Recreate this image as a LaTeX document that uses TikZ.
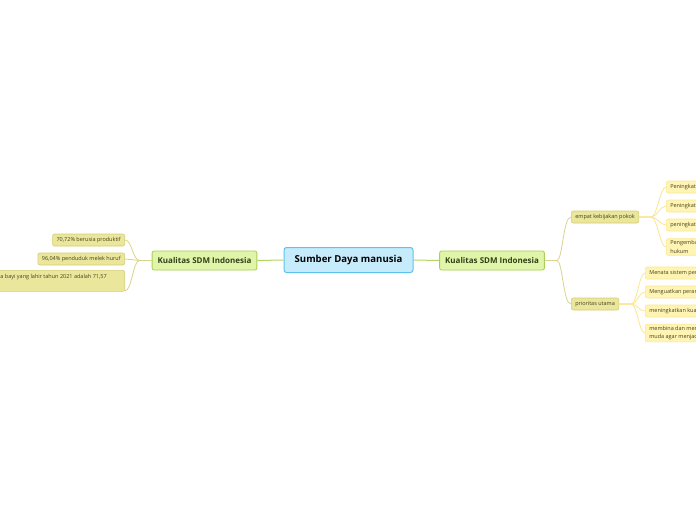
\documentclass[tikz,border=0pt]{standalone}
\usepackage{fontspec}
\setmainfont{Open Sans}
\usetikzlibrary{positioning}

\definecolor{rootfill}{HTML}{C6ECFC}
\definecolor{rootline}{HTML}{5CC3EE}
\definecolor{mainfill}{HTML}{E0F5A8}
\definecolor{mainline}{HTML}{A9CF56}
\definecolor{maintext}{HTML}{33401A}
\definecolor{subfill}{HTML}{EAE69C}
\definecolor{subline}{HTML}{D5CF72}
\definecolor{subtext}{HTML}{45421F}
\definecolor{leaffill}{HTML}{FFF4B4}
\definecolor{leafline}{HTML}{FCE890}
\definecolor{rootlinkc}{HTML}{B2D466}
\definecolor{sublinkc}{HTML}{D9D48C}
\definecolor{leaflinkc}{HTML}{FBE68E}

\begin{document}
\begin{tikzpicture}[
    x=1pt, y=-1pt,
    every node/.style={inner sep=2pt},
    rootbox/.style={draw=rootline, fill=rootfill, line width=1pt,
        rounded corners=2.5pt, minimum width=129, minimum height=25,
        font=\fontsize{9.6}{11}\selectfont\bfseries},
    mainbox/.style={draw=mainline, fill=mainfill, line width=0.8pt,
        rounded corners=2pt, inner xsep=5.5pt, minimum height=19,
        text=maintext, font=\fontsize{8}{9}\selectfont\bfseries},
    subbox/.style={draw=subline, fill=subfill, line width=0.6pt,
        rounded corners=2pt, inner xsep=4pt, minimum height=12,
        text=subtext, font=\fontsize{5.5}{8.3}\selectfont},
    leafbox/.style={subbox, draw=leafline, fill=leaffill, align=left},
    rootlink/.style={draw=rootlinkc, line width=1pt},
    sublink/.style={draw=sublinkc, line width=0.8pt},
    leaflink/.style={draw=leaflinkc, line width=0.8pt}
]

% Fondo
\useasboundingbox (0,0) rectangle (696,520);
\clip (0,0) rectangle (696,520);
\fill[white] (0,0) rectangle (696,520);

% Nodo central y primer nivel
\node[rootbox] (root) at (348.5,260) {Sumber Daya manusia};
\node[mainbox] (kualL) at (204.5,260.5) {Kualitas SDM Indonesia};
\node[mainbox] (kualR) at (492,260.5) {Kualitas SDM Indonesia};

% Hojas izquierda
\node[subbox, anchor=east] (usia) at (125,240) {70,72\% berusia produktif};
\node[subbox, anchor=east] (melek) at (125,259) {96,04\% penduduk melek huruf};
\node[subbox, anchor=north east, align=left, minimum height=21] (harapan) at (125,270)
    {Usia harapan hidup rata-rata bayi yang lahir tahun 2021 adalah 71,57\hbox to 14pt{}\\tahun};

% Segundo nivel derecha
\node[subbox, anchor=west] (kebijakan) at (571,217) {empat kebijakan pokok};
\node[subbox, anchor=west] (prioritas) at (571,304) {prioritas utama};

% Tercer nivel derecha
\node[leafbox, anchor=west] (hidup) at (666,187) {Peningkatan kualitas hidup};
\node[leafbox, anchor=west] (sdm) at (666,206) {Peningkatan kualitas sumber daya manusia};
\node[leafbox, anchor=west] (iptek) at (666,225) {peningkatan kemampuan IPTEK};
\node[leafbox, anchor=west] (pranata) at (666,247)
    {Pengembangan pranata pendukung yang meliputi pranata\\hukum};
\node[leafbox, anchor=west] (sistem) at (645,273) {Menata sistem pendidikan nasional};
\node[leafbox, anchor=west] (peran) at (645,292) {Menguatkan peran keluarga};
\node[leafbox, anchor=west] (kerja) at (645,311) {meningkatkan kualitas tenaga kerja};
\node[leafbox, anchor=west] (pemuda) at (645,333)
    {membina dan mengembangkan generasi\\muda agar menjadi kader bangsa};

% Ramas centrales
\draw[rootlink] (root.west) -- (kualL.east);
\draw[rootlink] (root.east) -- (kualR.west);

% Ramas izquierda
\draw[sublink] (kualL.west) -- ++(-12,0) .. controls +(-7,0) and +(7,0) .. (usia.east);
\draw[sublink] (kualL.west) -- ++(-12,0) .. controls +(-7,0) and +(7,0) .. (melek.east);
\draw[sublink] (kualL.west) -- ++(-12,0) .. controls +(-7,0) and +(7,0) .. ([yshift=-10]harapan.east);

% Ramas derecha
\draw[sublink] (kualR.east) -- ++(12,0) .. controls +(6,0) and +(-8,0) .. (kebijakan.west);
\draw[sublink] (kualR.east) -- ++(12,0) .. controls +(6,0) and +(-8,0) .. (prioritas.west);

\draw[leaflink] (kebijakan.east) -- ++(12,0) .. controls +(6,0) and +(-6,0) .. (hidup.west);
\draw[leaflink] (kebijakan.east) -- ++(12,0) .. controls +(6,0) and +(-6,0) .. (sdm.west);
\draw[leaflink] (kebijakan.east) -- ++(12,0) .. controls +(6,0) and +(-6,0) .. (iptek.west);
\draw[leaflink] (kebijakan.east) -- ++(12,0) .. controls +(6,0) and +(-6,0) .. (pranata.west);

\draw[leaflink] (prioritas.east) -- ++(12,0) .. controls +(6,0) and +(-6,0) .. (sistem.west);
\draw[leaflink] (prioritas.east) -- ++(12,0) .. controls +(6,0) and +(-6,0) .. (peran.west);
\draw[leaflink] (prioritas.east) -- ++(12,0) .. controls +(6,0) and +(-6,0) .. (kerja.west);
\draw[leaflink] (prioritas.east) -- ++(12,0) .. controls +(6,0) and +(-6,0) .. (pemuda.west);

\end{tikzpicture}
\end{document}
